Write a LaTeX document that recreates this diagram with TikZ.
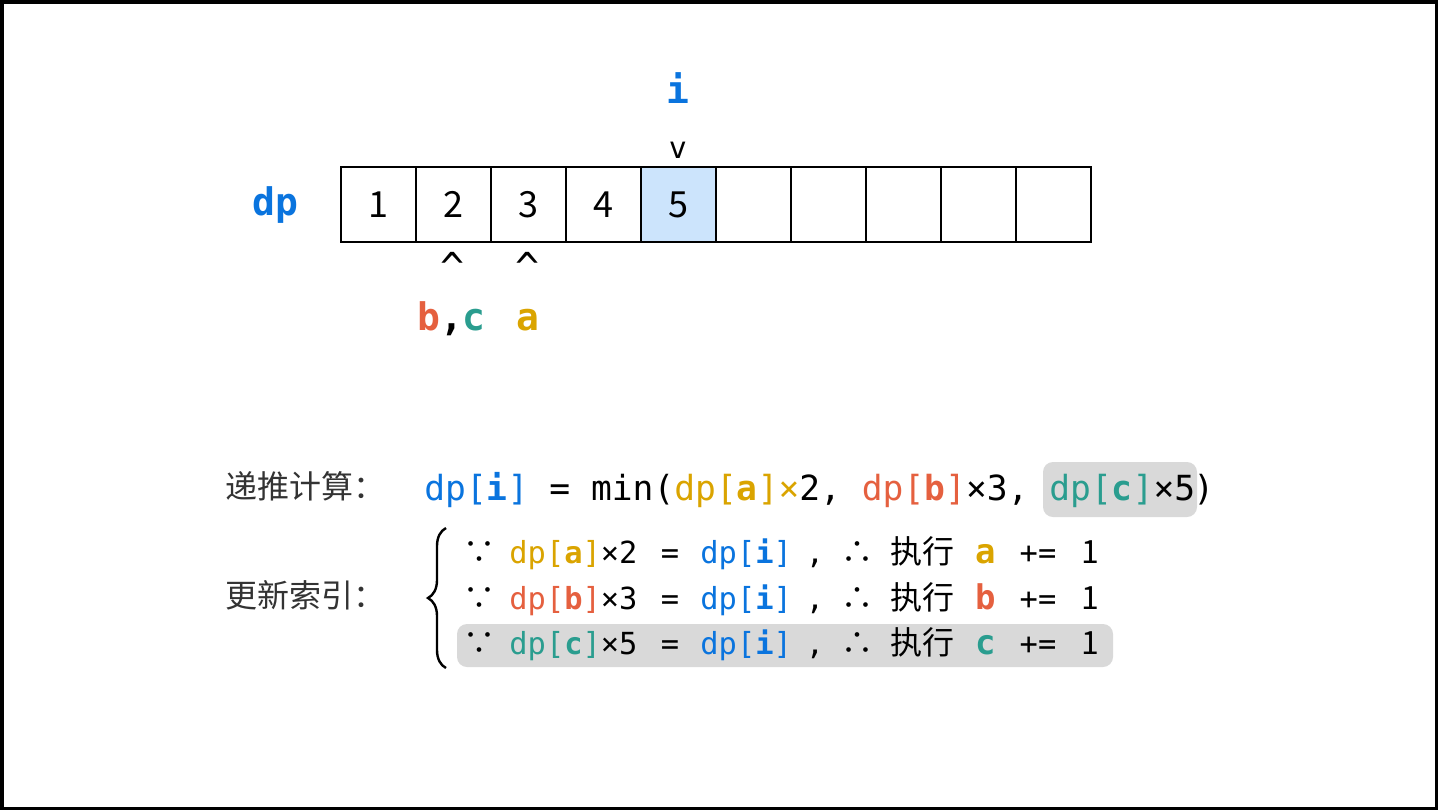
\documentclass[tikz,border=0pt]{standalone}
\usepackage{fontspec}
\setmainfont{Noto Sans CJK SC}
\newfontfamily\codefont{DejaVu Sans Mono}
\usetikzlibrary{positioning,decorations.pathreplacing}

\definecolor{dpblue}{RGB}{10,116,222}
\definecolor{aorange}{RGB}{218,164,0}
\definecolor{bred}{RGB}{229,96,63}
\definecolor{cteal}{RGB}{42,157,143}
\definecolor{cellblue}{RGB}{204,228,252}
\definecolor{hlgray}{RGB}{217,217,217}

\tikzset{
  cell/.style={draw, line width=1pt, minimum size=37.5pt, inner sep=0pt, font=\fontsize{18}{18}\selectfont},
  txt/.style={anchor=base, inner sep=0pt, font=\fontsize{16}{16}\selectfont},
  code/.style={anchor=base, inner sep=0pt, font=\codefont\fontsize{15.2}{15.2}\selectfont},
  fcode/.style={anchor=base west, inner sep=0pt, font=\codefont\fontsize{17.3}{17.3}\selectfont},
  lbl/.style={anchor=base, inner sep=0pt, font=\codefont\bfseries\fontsize{19}{19}\selectfont},
  ptr/.style={anchor=base, inner sep=0pt, font=\codefont\fontsize{20}{20}\selectfont},
  hl/.style={fill=hlgray, rounded corners=5pt}
}

\begin{document}
\begin{tikzpicture}[x=0.5pt, y=-0.5pt]
  \useasboundingbox (0,0) rectangle (1438,810);
  \draw[line width=1.75pt] (1.75,1.75) rectangle (1436.25,808.25);

  % the dp array
  \node [cell] (c1) at (378.5,204.5) {1};
  \node [cell] (c2) at (453.5,204.5) {2};
  \node [cell] (c3) at (528.5,204.5) {3};
  \node [cell] (c4) at (603.5,204.5) {4};
  \node [cell, fill=cellblue] (c5) at (678.5,204.5) {5};
  \node [cell] (c6) at (753.5,204.5) {};
  \node [cell] (c7) at (828.5,204.5) {};
  \node [cell] (c8) at (903.5,204.5) {};
  \node [cell] (c9) at (978.5,204.5) {};
  \node [cell] (c10) at (1053.5,204.5) {};

  \node [lbl, text=dpblue] (dp) at (275,215) {dp};

  % pointers
  \node [lbl, text=dpblue] (i) at (678,103) {i};
  \node [ptr, font=\codefont\fontsize{15}{15}\selectfont] (ptri) at (678,158) {v};
  \node [ptr] (ptrb) at (453,281) {\char"5E};
  \node [ptr] (ptra) at (528,281) {\char"5E};
  \node [lbl] (bc) at (451.5,330) {{\color{bred}b},{\color{cteal}c}};
  \node [lbl, text=aorange] (a) at (528,330) {a};

  % formula
  \fill [hl] (1043,462) rectangle (1197,517);
  \node [txt, anchor=base west, text=black!80] (calc) at (225,498) {递推计算：};
  \node [fcode] (rec) at (424,500) {{\color{dpblue}dp[\textbf{i}]} = min({\color{aorange}dp[\textbf{a}]×}2, {\color{bred}dp[\textbf{b}]}×3,};
  \node [fcode, text=cteal] (recc) at (1049,500) {dp[\textbf{c}]{\color{black}×5}};
  \node [fcode] (recend) at (1193,500) {)};

  % index update
  \node [txt, anchor=base west, text=black!80] (upd) at (225,607) {更新索引：};
  \draw [decorate, decoration={brace, amplitude=9pt}, line width=1.2pt] (446,668) -- (446,528);
  \fill [hl] (457,624) rectangle (1113,667);

  \node [txt] (because1) at (479,563) {∵};
  \node [code, anchor=base west, text=aorange] (lhs1) at (509,563) {dp[\textbf{a}]{\color{black}×2}};
  \node [code] (eq1) at (670,563) {=};
  \node [code, anchor=base west, text=dpblue] (rhs1) at (700,563) {dp[\textbf{i}]};
  \node [code] (comma1) at (815,563) {,};
  \node [txt] (so1) at (857,563) {∴};
  \node [txt, anchor=base west] (do1) at (890,563) {执行};
  \node [lbl, font=\codefont\bfseries\fontsize{17}{17}\selectfont, text=aorange] (idx1) at (986,563) {a};
  \node [code] (inc1) at (1038,563) {+=};
  \node [txt] (one1) at (1090,563) {1};

  \node [txt] (because2) at (479,609) {∵};
  \node [code, anchor=base west, text=bred] (lhs2) at (509,609) {dp[\textbf{b}]{\color{black}×3}};
  \node [code] (eq2) at (670,609) {=};
  \node [code, anchor=base west, text=dpblue] (rhs2) at (700,609) {dp[\textbf{i}]};
  \node [code] (comma2) at (815,609) {,};
  \node [txt] (so2) at (857,609) {∴};
  \node [txt, anchor=base west] (do2) at (890,609) {执行};
  \node [lbl, font=\codefont\bfseries\fontsize{17}{17}\selectfont, text=bred] (idx2) at (986,609) {b};
  \node [code] (inc2) at (1038,609) {+=};
  \node [txt] (one2) at (1090,609) {1};

  \node [txt] (because3) at (479,654) {∵};
  \node [code, anchor=base west, text=cteal] (lhs3) at (509,654) {dp[\textbf{c}]{\color{black}×5}};
  \node [code] (eq3) at (670,654) {=};
  \node [code, anchor=base west, text=dpblue] (rhs3) at (700,654) {dp[\textbf{i}]};
  \node [code] (comma3) at (815,654) {,};
  \node [txt] (so3) at (857,654) {∴};
  \node [txt, anchor=base west] (do3) at (890,654) {执行};
  \node [lbl, font=\codefont\bfseries\fontsize{17}{17}\selectfont, text=cteal] (idx3) at (986,654) {c};
  \node [code] (inc3) at (1038,654) {+=};
  \node [txt] (one3) at (1090,654) {1};
\end{tikzpicture}
\end{document}
